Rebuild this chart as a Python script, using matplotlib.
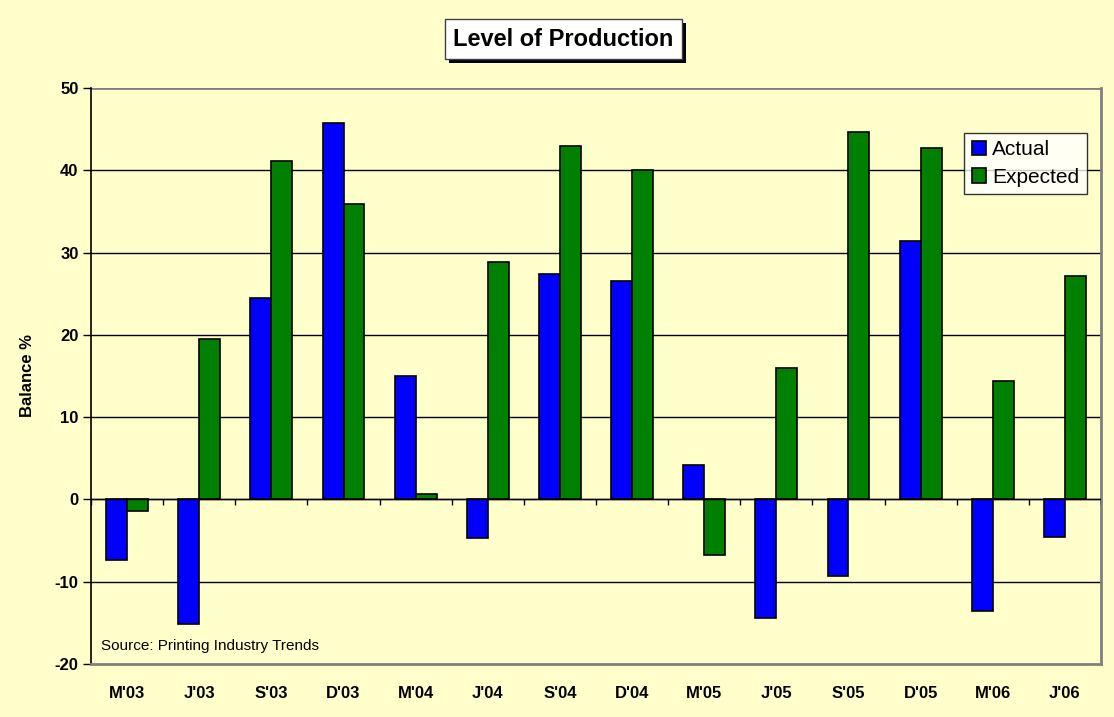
import numpy as np
import matplotlib
matplotlib.use("Agg")
import matplotlib.pyplot as plt
from matplotlib.patches import Rectangle

plt.rcParams['font.family'] = ['Liberation Sans', 'DejaVu Sans']

# data
quarters = ["M'03", "J'03", "S'03", "D'03", "M'04", "J'04", "S'04",
            "D'04", "M'05", "J'05", "S'05", "D'05", "M'06", "J'06"]
actual = [-7.3, -15.1, 24.5, 45.7, 15.0, -4.7, 27.4,
          26.5, 4.2, -14.4, -9.3, 31.4, -13.6, -4.6]
expected = [-1.4, 19.5, 41.1, 35.9, 0.7, 28.8, 42.9,
            40.0, -6.8, 16.0, 44.7, 42.7, 14.4, 27.1]
y_ticks = [-20, -10, 0, 10, 20, 30, 40, 50]

bg = '#FFFFCC'
fig = plt.figure(figsize=(11.14, 7.17), dpi=100, facecolor=bg)
ax = fig.add_axes([0.0817, 0.0739, 0.9066, 0.8034], facecolor=bg)

x = np.arange(len(quarters))
w = 0.29
ax.bar(x - w / 2, actual, w, color='#0000FF', edgecolor='black',
       linewidth=1.2, label='Actual', zorder=3)
ax.bar(x + w / 2, expected, w, color='#008000', edgecolor='black',
       linewidth=1.2, label='Expected', zorder=3)

ax.set_xlim(-0.5, len(quarters) - 0.5)
ax.set_ylim(-20, 50)
ax.set_yticks(y_ticks)
ax.set_yticklabels([str(t) for t in y_ticks], fontsize=12, fontweight='bold')
ax.set_xticks(x)
ax.set_xticklabels(quarters, fontsize=12, fontweight='bold')
ax.tick_params(axis='x', length=0, pad=16)
ax.tick_params(axis='y', length=6, width=1, direction='out', pad=3)

for v in y_ticks[1:-1]:
    ax.axhline(v, color='black', linewidth=1, zorder=1)
ax.axhline(50, color='#808080', linewidth=2, zorder=1)

# category axis on the zero line with tick marks between categories
ax.axhline(0, color='black', linewidth=1, zorder=4)
ax.vlines(np.arange(len(quarters) + 1) - 0.5, -0.7, 0, color='black',
          linewidth=1, zorder=4)

ax.spines['left'].set_color('black')
ax.spines['left'].set_linewidth(1.2)
for s in ['right', 'bottom']:
    ax.spines[s].set_color('#808080')
    ax.spines[s].set_linewidth(2)
ax.spines['top'].set_visible(False)

ax.set_ylabel('Balance %', fontsize=12, fontweight='bold', labelpad=14)

leg = ax.legend(loc='upper right', bbox_to_anchor=(0.986, 0.922),
                fontsize=15, frameon=True, fancybox=False, handlelength=0.7,
                handleheight=0.7, handletextpad=0.3, borderpad=0.35,
                labelspacing=0.4, borderaxespad=0)
leg.get_frame().set_edgecolor('black')
leg.get_frame().set_linewidth(1)

ax.text(0.01, 0.024, 'Source: Printing Industry Trends', transform=ax.transAxes,
        fontsize=11, ha='left', va='baseline')

# title box with drop shadow
title = fig.text(0.506, 0.945, 'Level of Production', ha='center', va='center',
                 fontsize=17, fontweight='bold', zorder=5,
                 bbox=dict(boxstyle='square,pad=0.36', facecolor='white',
                           edgecolor='#404040', linewidth=1))
fig.canvas.draw()
bb = title.get_bbox_patch().get_window_extent()
fig.patches.append(Rectangle((bb.x0 + 4, bb.y0 - 4), bb.width, bb.height,
                             transform=None, facecolor='black',
                             edgecolor='none', zorder=4))

fig.savefig('out.png', dpi=100, facecolor=bg)
